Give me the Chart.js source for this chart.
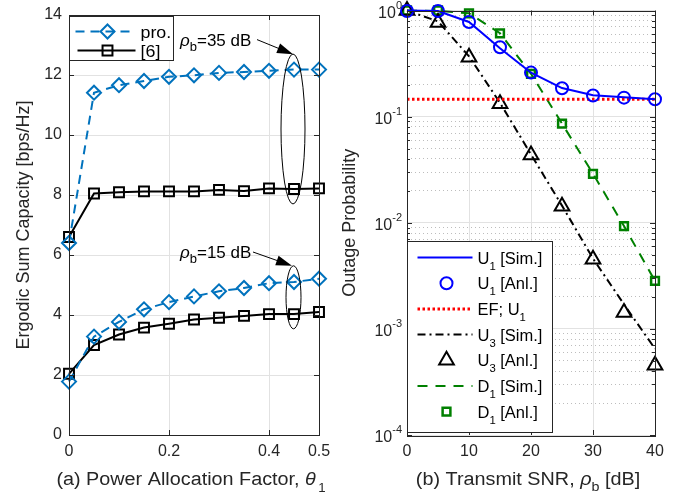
<!DOCTYPE html>
<html>
<head>
<meta charset="utf-8">
<script src="https://cdn.jsdelivr.net/npm/chart.js@4/dist/chart.umd.min.js"></script>
<style>
html, body { margin: 0; padding: 0; background: #fff; }
#wrap { position: relative; width: 686px; height: 495px; overflow: hidden; }
canvas { position: absolute; top: 0; }
#chartA { left: 0; }
#chartB { left: 325px; }
</style>
</head>
<body>
<div id="wrap">
  <canvas id="chartA" width="343" height="495"></canvas>
  <canvas id="chartB" width="361" height="495"></canvas>
</div>
<script>
// (a) ergodic sum capacity vs power allocation factor
const thetaVals = [0, 0.05, 0.1, 0.15, 0.2, 0.25, 0.3, 0.35, 0.4, 0.45, 0.5];
const pro35 = [6.4, 11.41, 11.66, 11.8, 11.94, 11.99, 12.07, 12.1, 12.14, 12.18, 12.18];
const ref35 = [6.6, 8.05, 8.09, 8.12, 8.12, 8.12, 8.17, 8.13, 8.22, 8.2, 8.22];
const pro15 = [1.78, 3.28, 3.77, 4.19, 4.43, 4.62, 4.79, 4.9, 5.06, 5.1, 5.21];
const ref15 = [2.04, 3.0, 3.35, 3.58, 3.71, 3.85, 3.91, 3.97, 4.03, 4.03, 4.1];
const thetaTicks = [0, 0.2, 0.4, 0.5];
const capTicks = [0, 2, 4, 6, 8, 10, 12, 14];

// (b) outage probability vs transmit SNR
const snrVals = [0, 5, 10, 15, 20, 25, 30, 35, 40];
const u1Sim = [1.0, 0.99, 0.78, 0.44, 0.259, 0.186, 0.159, 0.152, 0.146];
const u1Anl = [0.99, 0.99, 0.78, 0.45, 0.26, 0.185, 0.158, 0.151, 0.146];
const efU1 = [0.146, 0.146, 0.146, 0.146, 0.146, 0.146, 0.146, 0.146, 0.146];
const u3Sim = [1.0, 0.79, 0.37, 0.135, 0.044, 0.0145, 0.0046, 0.0017, 0.00065];
const u3Anl = [1.0, 0.77, 0.363, 0.132, 0.0435, 0.0143, 0.00452, 0.00143, 0.000453];
const d1Sim = [1.0, 0.99, 0.94, 0.61, 0.253, 0.086, 0.029, 0.0093, 0.00283];
const d1Anl = [1.0, 1.0, 0.94, 0.61, 0.253, 0.086, 0.0289, 0.0093, 0.00283];
const snrTicks = [0, 10, 20, 30, 40];
const outDecades = [1e-4, 1e-3, 1e-2, 1e-1, 1];
const outExps = ['-4', '-3', '-2', '-1', '0'];

const FONT = '"Liberation Sans", Arial, Helvetica, sans-serif';
const AXIS = '#262626';
const GRID = '#e2e2e2';
const BLUE_A = '#0072bd';
const GREEN = '#008000';

const pts = (xs, ys) => xs.map((x, i) => ({ x: x, y: ys[i] }));

function setFont(ctx, size, italic) {
  ctx.font = (italic ? 'italic ' : '') + size + 'px ' + FONT;
}

// parts: [text, size, dy, italic]; stretch widens the text horizontally
function rich(ctx, parts, x, y, align, stretch) {
  const k = stretch || 1;
  let w = 0;
  parts.forEach(p => { setFont(ctx, p[1], p[3]); w += ctx.measureText(p[0]).width; });
  w *= k;
  let cx = align === 'center' ? x - w / 2 : (align === 'right' ? x - w : x);
  ctx.save();
  ctx.translate(cx, y);
  ctx.scale(k, 1);
  ctx.textAlign = 'left';
  ctx.textBaseline = 'alphabetic';
  let px = 0;
  parts.forEach(p => {
    setFont(ctx, p[1], p[3]);
    ctx.fillText(p[0], px, p[2] || 0);
    px += ctx.measureText(p[0]).width;
  });
  ctx.restore();
}

function marker(ctx, style, x, y, r, color, lw) {
  ctx.save();
  ctx.strokeStyle = color;
  ctx.lineWidth = lw;
  ctx.setLineDash([]);
  ctx.beginPath();
  if (style === 'circle') {
    ctx.arc(x, y, r, 0, Math.PI * 2);
  } else if (style === 'rect') {
    const h = r * Math.SQRT1_2;
    ctx.rect(x - h, y - h, 2 * h, 2 * h);
  } else if (style === 'rectRot') {
    ctx.moveTo(x, y - r); ctx.lineTo(x + r, y); ctx.lineTo(x, y + r); ctx.lineTo(x - r, y); ctx.closePath();
  } else if (style === 'triangle') {
    ctx.moveTo(x, y - r); ctx.lineTo(x + 0.866 * r, y + 0.5 * r); ctx.lineTo(x - 0.866 * r, y + 0.5 * r); ctx.closePath();
  }
  ctx.stroke();
  ctx.restore();
}

function sampleLine(ctx, x1, x2, y, color, dash, w) {
  ctx.save();
  ctx.strokeStyle = color;
  ctx.lineWidth = w;
  ctx.setLineDash(dash);
  ctx.beginPath();
  ctx.moveTo(x1, y); ctx.lineTo(x2, y);
  ctx.stroke();
  ctx.restore();
}

function arrow(ctx, x1, y1, x2, y2) {
  const a = Math.atan2(y2 - y1, x2 - x1), L = 16, W = 5;
  const c = Math.cos(a), s = Math.sin(a);
  ctx.beginPath();
  ctx.moveTo(x1, y1); ctx.lineTo(x2 - L * c * 0.7, y2 - L * s * 0.7);
  ctx.stroke();
  ctx.beginPath();
  ctx.moveTo(x2, y2);
  ctx.lineTo(x2 - L * c + W * s, y2 - L * s - W * c);
  ctx.lineTo(x2 - L * c - W * s, y2 - L * s + W * c);
  ctx.closePath();
  ctx.fill();
}

// box with inward tick marks, like the original figure
function drawFrame(chart, xTicks, yTicks, yMinor) {
  const { ctx, chartArea: a, scales } = chart;
  ctx.save();
  ctx.strokeStyle = AXIS;
  ctx.lineWidth = 1;
  ctx.setLineDash([]);
  ctx.beginPath();
  xTicks.forEach(v => {
    const x = Math.round(scales.x.getPixelForValue(v)) + 0.5;
    ctx.moveTo(x, a.bottom); ctx.lineTo(x, a.bottom - 5);
    ctx.moveTo(x, a.top); ctx.lineTo(x, a.top + 5);
  });
  yTicks.forEach(v => {
    const y = Math.round(scales.y.getPixelForValue(v)) + 0.5;
    ctx.moveTo(a.left, y); ctx.lineTo(a.left + 5, y);
    ctx.moveTo(a.right, y); ctx.lineTo(a.right - 5, y);
  });
  (yMinor || []).forEach(v => {
    const y = Math.round(scales.y.getPixelForValue(v)) + 0.5;
    ctx.moveTo(a.left, y); ctx.lineTo(a.left + 3, y);
    ctx.moveTo(a.right, y); ctx.lineTo(a.right - 3, y);
  });
  ctx.stroke();
  ctx.strokeRect(Math.round(a.left) + 0.5, Math.round(a.top) + 0.5,
                 Math.round(a.right - a.left), Math.round(a.bottom - a.top));
  ctx.restore();
}

const isDecade = v => Math.abs(Math.log10(v) - Math.round(Math.log10(v))) < 1e-6;

const logTicks = [];
outDecades.slice(0, -1).forEach(d => { for (let k = 1; k < 10; k++) logTicks.push(+(d * k).toPrecision(3)); });
logTicks.push(1);
const logMinor = logTicks.filter(v => !isDecade(v));

// ---------- chart (a) ----------
const plotA = {
  id: 'plotA',
  afterDraw(chart) {
    const { ctx, chartArea: a, scales } = chart;
    const sx = v => scales.x.getPixelForValue(v);
    const sy = v => scales.y.getPixelForValue(v);
    drawFrame(chart, thetaTicks, capTicks);

    // ellipses, arrows and labels for the two SNR groups
    ctx.save();
    ctx.strokeStyle = '#000';
    ctx.fillStyle = '#000';
    ctx.lineWidth = 1;
    ctx.beginPath();
    ctx.ellipse(sx(0.448), sy(10.2), sx(0.472) - sx(0.448), sy(7.7) - sy(10.2), 0, 0, Math.PI * 2);
    ctx.stroke();
    ctx.beginPath();
    ctx.ellipse(sx(0.449), sy(4.59), sx(0.464) - sx(0.449), sy(3.54) - sy(4.59), 0, 0, Math.PI * 2);
    ctx.stroke();
    arrow(ctx, sx(0.376), sy(13.18), sx(0.448), sy(12.69));
    arrow(ctx, sx(0.368), sy(6.1), sx(0.446), sy(5.64));
    rich(ctx, [['ρ', 17, 0, true], ['b', 13, 5], ['=35 dB', 17]], sx(0.222), sy(13.18) + 6, 'left');
    rich(ctx, [['ρ', 17, 0, true], ['b', 13, 5], ['=15 dB', 17]], sx(0.222), sy(6.1) + 6, 'left');

    // legend
    const lx = Math.round(a.left) + 0.5, ly = Math.round(a.top) + 1.5;
    ctx.fillStyle = '#fff';
    ctx.fillRect(lx, ly, 104, 44);
    ctx.strokeStyle = AXIS;
    ctx.strokeRect(lx, ly, 104, 44);
    sampleLine(ctx, lx + 6, lx + 66, ly + 15, BLUE_A, [9, 6], 2);
    marker(ctx, 'rectRot', lx + 38, ly + 15, 7, BLUE_A, 2);
    sampleLine(ctx, lx + 8, lx + 66, ly + 34, '#000', [], 2);
    marker(ctx, 'rect', lx + 38, ly + 34, 7, '#000', 2);
    ctx.fillStyle = '#000';
    rich(ctx, [['pro.', 17]], lx + 71, ly + 21, 'left', 1.05);
    rich(ctx, [['[6]', 17]], lx + 71, ly + 40, 'left', 1.05);

    // axis titles
    ctx.fillStyle = '#262626';
    rich(ctx, [['(a) Power Allocation Factor, ', 18], ['θ', 18, 0, true], [' ', 8], ['1', 12, 7]],
         (a.left + a.right) / 2 - 3, 485, 'center', 1.1);
    ctx.translate(24, (a.top + a.bottom) / 2);
    ctx.rotate(-Math.PI / 2);
    ctx.textBaseline = 'middle';
    ctx.textAlign = 'center';
    setFont(ctx, 18);
    ctx.fillText('Ergodic Sum Capacity [bps/Hz]', 0, 0);
    ctx.restore();
  }
};

new Chart(document.getElementById('chartA'), {
  type: 'line',
  data: {
    datasets: [
      { data: pts(thetaVals, pro35), borderColor: BLUE_A, borderDash: [9, 6] },
      { data: pts(thetaVals, ref35), borderColor: '#000', pointStyle: 'rect', pointRadius: 7 },
      { data: pts(thetaVals, pro15), borderColor: BLUE_A, borderDash: [9, 6] },
      { data: pts(thetaVals, ref15), borderColor: '#000', pointStyle: 'rect', pointRadius: 7 }
    ].map(d => Object.assign({
      borderWidth: 2,
      pointStyle: 'rectRot',
      pointRadius: 7,
      pointBorderWidth: 2,
      pointBackgroundColor: 'rgba(0,0,0,0)',
      backgroundColor: 'rgba(0,0,0,0)',
      clip: false
    }, d))
  },
  options: {
    responsive: false,
    animation: false,
    layout: { padding: { top: 8, right: 24, left: 0, bottom: 0 } },
    plugins: { legend: { display: false }, tooltip: { enabled: false } },
    scales: {
      x: {
        type: 'linear', min: 0, max: 0.5,
        afterBuildTicks: s => { s.ticks = thetaTicks.map(v => ({ value: v })); },
        afterFit: s => { s.height = 60; },
        grid: { color: GRID, drawTicks: false },
        border: { display: false },
        ticks: { color: AXIS, font: { family: FONT, size: 16, lineHeight: 1 }, padding: 9,
                 autoSkip: false, maxRotation: 0, callback: v => String(v) }
      },
      y: {
        min: 0, max: 14,
        afterBuildTicks: s => { s.ticks = capTicks.map(v => ({ value: v })); },
        afterFit: s => { s.width = 69; },
        grid: { color: GRID, drawTicks: false },
        border: { display: false },
        ticks: { color: AXIS, font: { family: FONT, size: 16, lineHeight: 1 }, padding: 7,
                 autoSkip: false, callback: v => String(v) }
      }
    }
  },
  plugins: [plotA]
});

// ---------- chart (b) ----------
const legendB = [
  { parts: [['U', 16], ['1', 11, 6], [' [Sim.]', 16]], line: ['#0000ff', [], 2] },
  { parts: [['U', 16], ['1', 11, 6], [' [Anl.]', 16]], mk: ['circle', 6, '#0000ff', 2] },
  { parts: [['EF; U', 16], ['1', 11, 6]], line: ['#ff0000', [2.5, 2.5], 3] },
  { parts: [['U', 16], ['3', 11, 6], [' [Sim.]', 16]], line: ['#000', [8, 4, 2, 4], 2] },
  { parts: [['U', 16], ['3', 11, 6], [' [Anl.]', 16]], mk: ['triangle', 8.5, '#000', 2] },
  { parts: [['D', 16], ['1', 11, 6], [' [Sim.]', 16]], line: [GREEN, [10, 8], 2] },
  { parts: [['D', 16], ['1', 11, 6], [' [Anl.]', 16]], mk: ['rect', 5.5, GREEN, 2.5] }
];

const plotB = {
  id: 'plotB',
  afterDraw(chart) {
    const { ctx, chartArea: a, scales } = chart;
    drawFrame(chart, snrTicks, outDecades, logMinor);
    ctx.save();

    // y tick labels as powers of ten
    ctx.fillStyle = AXIS;
    outDecades.forEach((v, i) => {
      const y = scales.y.getPixelForValue(v);
      setFont(ctx, 11);
      const ew = ctx.measureText(outExps[i]).width;
      const xr = a.left - 5;
      setFont(ctx, 16);
      ctx.textAlign = 'right';
      ctx.textBaseline = 'alphabetic';
      ctx.fillText('10', xr - ew, y + 7);
      setFont(ctx, 11);
      ctx.fillText(outExps[i], xr, y - 2);
    });

    // legend
    const lx = Math.round(a.left) + 0.5, ly = Math.round(a.bottom) - 193.5;
    ctx.fillStyle = '#fff';
    ctx.fillRect(lx, ly, 145, 191);
    ctx.strokeStyle = AXIS;
    ctx.lineWidth = 1;
    ctx.strokeRect(lx, ly, 145, 191);
    legendB.forEach((it, i) => {
      const y = ly + 16 + i * 25.7;
      if (it.line) sampleLine(ctx, lx + 10, lx + 65, y, it.line[0], it.line[1], it.line[2]);
      if (it.mk) marker(ctx, it.mk[0], lx + 39, y, it.mk[1], it.mk[2], it.mk[3]);
      ctx.fillStyle = '#000';
      rich(ctx, it.parts, lx + 70, y + 6, 'left', 1.03);
    });

    // axis titles
    ctx.fillStyle = '#262626';
    rich(ctx, [['(b) Transmit SNR, ', 18], ['ρ', 18, 0, true], ['b', 13, 6], [' [dB]', 18]],
         (a.left + a.right) / 2 - 3, 485, 'center', 1.1);
    ctx.translate(25, (a.top + a.bottom) / 2);
    ctx.rotate(-Math.PI / 2);
    ctx.textBaseline = 'middle';
    ctx.textAlign = 'center';
    setFont(ctx, 18);
    ctx.fillText('Outage Probability', 0, 0);
    ctx.restore();
  }
};

const minorDash = c => (c.tick && !isDecade(c.tick.value)) ? [1, 3] : [];

new Chart(document.getElementById('chartB'), {
  type: 'line',
  data: {
    datasets: [
      { data: pts(snrVals, u1Sim), borderColor: '#0000ff', pointRadius: 0 },
      { data: pts(snrVals, u1Anl), borderColor: '#0000ff', showLine: false, pointStyle: 'circle', pointRadius: 6 },
      { data: pts(snrVals, efU1), borderColor: '#ff0000', borderWidth: 3, borderDash: [2.5, 2.5], pointRadius: 0 },
      { data: pts(snrVals, u3Sim), borderColor: '#000', borderDash: [8, 4, 2, 4], pointRadius: 0 },
      { data: pts(snrVals, u3Anl), borderColor: '#000', showLine: false, pointStyle: 'triangle', pointRadius: 8.5 },
      { data: pts(snrVals, d1Sim), borderColor: GREEN, borderDash: [10, 8], pointRadius: 0 },
      { data: pts(snrVals, d1Anl), borderColor: GREEN, showLine: false, pointStyle: 'rect', pointRadius: 5.5, pointBorderWidth: 2.5 }
    ].map(d => Object.assign({
      borderWidth: 2,
      pointBorderWidth: 2,
      pointBackgroundColor: 'rgba(0,0,0,0)',
      backgroundColor: 'rgba(0,0,0,0)',
      clip: false
    }, d))
  },
  options: {
    responsive: false,
    animation: false,
    layout: { padding: { top: 8, right: 31, left: 0, bottom: 0 } },
    plugins: { legend: { display: false }, tooltip: { enabled: false } },
    scales: {
      x: {
        type: 'linear', min: 0, max: 40,
        afterBuildTicks: s => { s.ticks = snrTicks.map(v => ({ value: v })); },
        afterFit: s => { s.height = 60; },
        grid: { color: GRID, drawTicks: false },
        border: { display: false },
        ticks: { color: AXIS, font: { family: FONT, size: 16, lineHeight: 1 }, padding: 9,
                 autoSkip: false, maxRotation: 0, callback: v => String(v) }
      },
      y: {
        type: 'logarithmic', min: 1e-4, max: 1,
        afterBuildTicks: s => { s.ticks = logTicks.map(v => ({ value: v })); },
        afterFit: s => { s.width = 82; },
        grid: {
          color: c => (c.tick && !isDecade(c.tick.value)) ? '#bdbdbd' : GRID,
          borderDash: minorDash,
          drawTicks: false
        },
        border: { display: false, dash: minorDash },
        ticks: { display: false, autoSkip: false }
      }
    }
  },
  plugins: [plotB]
});
</script>
</body>
</html>
